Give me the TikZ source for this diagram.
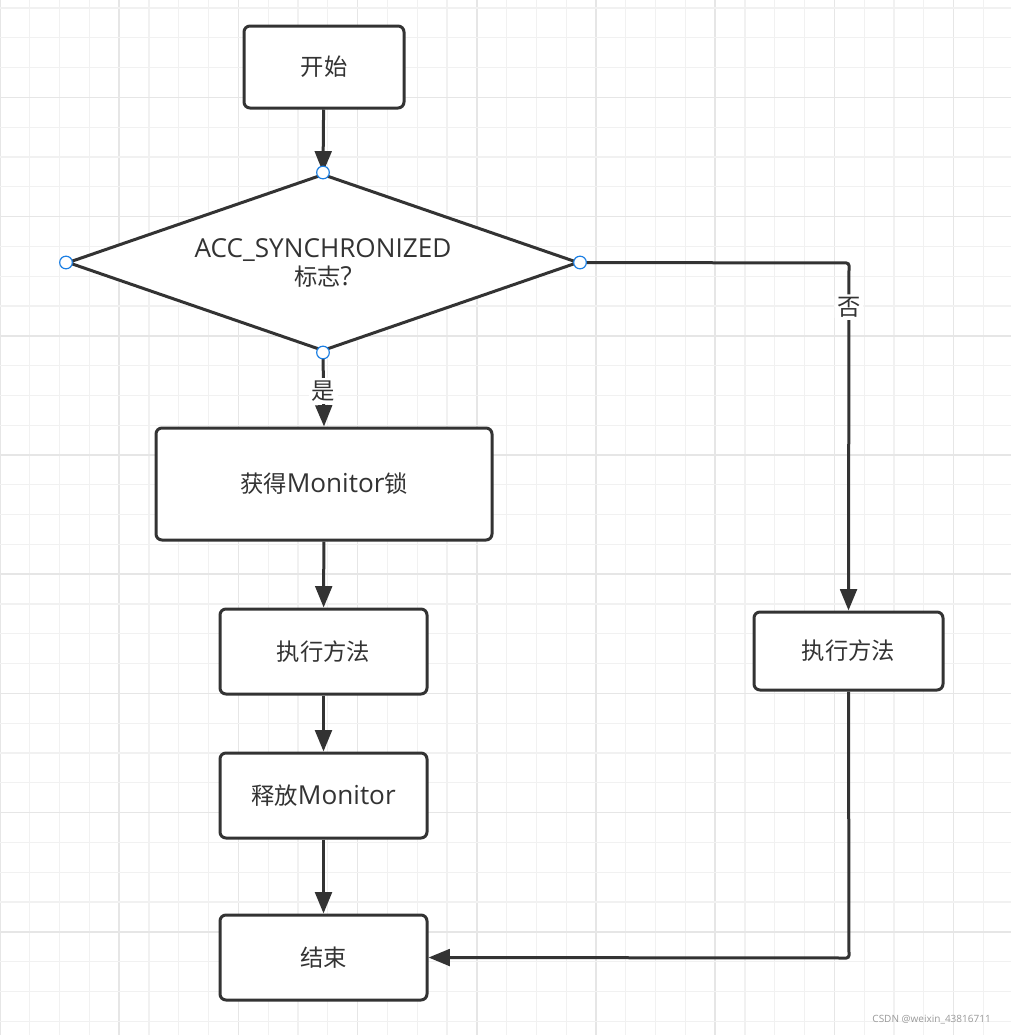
\documentclass[tikz,border=0pt]{standalone}
\usepackage{fontspec}
\setmainfont{Open Sans}[Scale=1.12]
\newfontfamily\cjk{Noto Sans CJK SC}
\usetikzlibrary{arrows.meta,shapes.geometric}
\definecolor{ink}{HTML}{333333}
\definecolor{gminor}{HTML}{F1F1F1}
\definecolor{gmajor}{HTML}{E6E6E6}
\definecolor{cpblue}{HTML}{1C7FE3}
\begin{document}
\begin{tikzpicture}[x=0.75pt,y=-0.75pt,
  every node/.style={text=ink,font=\fontsize{17.5pt}{22pt}\selectfont},
  box/.style={draw=ink,line width=2.25pt,rounded corners=4.5pt,fill=white,inner sep=0pt},
  conn/.style={draw=ink,line width=2.25pt,-{Triangle[length=16pt,width=12.5pt]}},
  cpt/.style={circle,draw=cpblue,fill=white,line width=0.9pt,minimum size=9.5pt,inner sep=0pt},
  lbl/.style={fill=white,inner sep=2pt}]
\useasboundingbox (0,0) rectangle (1011,1035);
\fill[white] (0,0) rectangle (1011,1035);
% grid
\foreach \i in {0,...,34}{
  \pgfmathtruncatemacro{\m}{mod(\i,4)}
  \ifnum\m=0
    \draw[gmajor,line width=1.1pt] (\i*29.8,0) -- (\i*29.8,1035);
  \else
    \draw[gminor,line width=1pt] (\i*29.8,0) -- (\i*29.8,1035);
  \fi
}
\foreach \j in {0,...,34}{
  \pgfmathtruncatemacro{\m}{mod(\j,4)}
  \ifnum\m=3
    \draw[gmajor,line width=1.1pt] (0,8+\j*29.8) -- (1011,8+\j*29.8);
  \else
    \draw[gminor,line width=1pt] (0,8+\j*29.8) -- (1011,8+\j*29.8);
  \fi
}
% nodes
\node[box,minimum width=120pt,minimum height=61.5pt] (start) at (324,67) {\cjk 开始};
\node[draw=ink,line width=2.25pt,fill=white,diamond,aspect=2.9,inner sep=0pt,
      minimum width=383.25pt,minimum height=132.75pt,align=center] (dec) at (323,262.5)
      {ACC\_SYNCHRONIZED\\[-1pt]{\cjk 标志}?};
\node[box,minimum width=252pt,minimum height=84pt] (lock) at (324,484) {{\cjk 获得}Monitor{\cjk 锁}};
\node[box,minimum width=155.25pt,minimum height=63.75pt] (exec1) at (323.5,651.5) {\cjk 执行方法};
\node[box,minimum width=155.25pt,minimum height=63.75pt] (rel) at (323.5,795.5) {{\cjk 释放}Monitor};
\node[box,minimum width=155.25pt,minimum height=63.75pt] (fin) at (323.5,957.5) {\cjk 结束};
\node[box,minimum width=141.75pt,minimum height=58.5pt] (exec2) at (848.5,651) {\cjk 执行方法};
\coordinate (c1) at (849,263);
\coordinate (c2) at (849,958);
% connectors
\draw[conn] (start) -- (dec.north);
\draw[conn] (dec.south) -- node[lbl,pos=0.52] (yes) {\cjk 是} (lock.north);
\draw[conn] (lock) -- (exec1);
\draw[conn] (exec1) -- (rel);
\draw[conn] (rel) -- (fin);
\draw[conn,rounded corners=2pt] (dec.east) -- (c1) -- node[lbl,pos=0.127] (no) {\cjk 否} (exec2.north);
\draw[conn,rounded corners=2pt] (exec2.south) -- (c2) -- (fin.east);
% connection points
\foreach \a in {north,south,east,west}{
  \node[cpt] at (dec.\a) {};
}
\node[text=gray!80,font=\fontsize{6.7pt}{9pt}\selectfont,anchor=east] (wm) at (996,1020) {CSDN @weixin\_43816711};
\end{tikzpicture}
\end{document}
